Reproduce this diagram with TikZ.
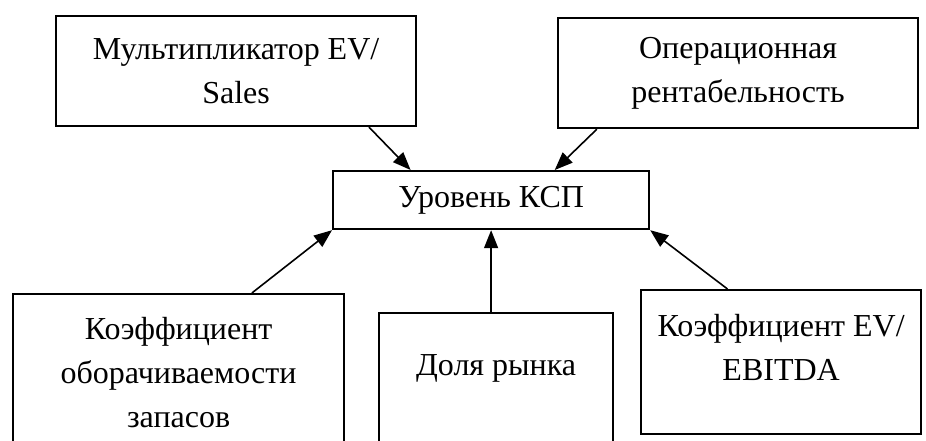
\documentclass[tikz,border=0pt]{standalone}
\usepackage{fontspec}
\setmainfont{Liberation Serif}
\usepackage{tikz}
\usetikzlibrary{positioning,arrows.meta,calc}

\begin{document}
\begin{tikzpicture}[
  x=1pt, y=-1pt,
  box/.style={rectangle, draw, line width=2.2pt, anchor=north west, inner sep=0pt},
  txt/.style={font=\fontsize{32}{44}\selectfont, align=center},
  -{Triangle[length=18pt,width=14pt]}, line width=1.6pt
]
\useasboundingbox (0,0) rectangle (926,441);

% top row
\node[box, minimum width=360pt, minimum height=110pt] (mult) at (55,15) {};
\node[txt] at (mult) {Мультипликатор EV/\\Sales};

\node[box, minimum width=360pt, minimum height=110pt] (oper) at (557,17) {};
\node[txt] at (oper) {Операционная\\рентабельность};

% centre
\node[box, minimum width=316pt, minimum height=58pt] (kcp) at (332,170) {};
\node[txt] at (kcp) {Уровень КСП};

% bottom row
\node[box, minimum width=331pt, minimum height=200pt] (oborot) at (12,293) {};
\node[txt] at ($(oborot.north)+(0,80)$) {Коэффициент\\оборачиваемости\\запасов};

\node[box, minimum width=234pt, minimum height=200pt] (dolya) at (378,312) {};
\node[txt] at ($(dolya.north)+(0,56)$) {Доля рынка};

\node[box, minimum width=280pt, minimum height=144pt] (ebitda) at (640,289) {};
\node[txt] at ($(ebitda.north)+(0,58)$) {Коэффициент EV/\\EBITDA};

\draw ($(mult.south west)!0.867!(mult.south east)$) -- ($(kcp.north west)!0.247!(kcp.north east)$);
\draw ($(oper.south west)!0.11!(oper.south east)$) -- ($(kcp.north west)!0.70!(kcp.north east)$);
\draw ($(oborot.north west)!0.72!(oborot.north east)$) -- (kcp.south west);
\draw (dolya.north -| kcp.south) -- (kcp.south);
\draw ($(ebitda.north west)!0.31!(ebitda.north east)$) -- (kcp.south east);
\end{tikzpicture}
\end{document}
